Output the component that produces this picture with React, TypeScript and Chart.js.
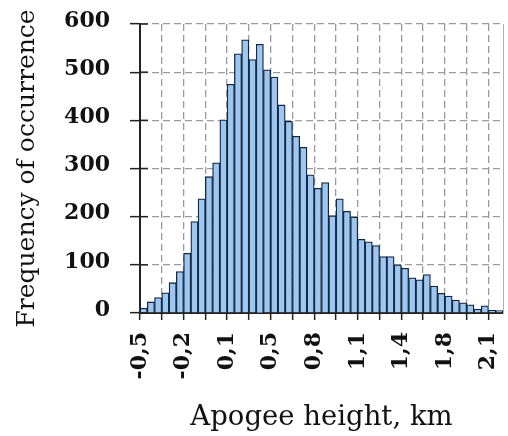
import { useEffect, useRef } from 'react';
import { Chart, registerables } from 'chart.js';

Chart.register(...registerables);

// Histogram bin counts (50 bins, left to right)
const BIN_COUNTS = [
  10, 23, 32, 42, 63, 86, 124, 190, 237, 283,
  312, 401, 475, 538, 567, 526, 558, 505, 490, 432,
  398, 367, 344, 287, 259, 271, 202, 237, 211, 199,
  153, 148, 140, 117, 117, 100, 93, 73, 69, 80,
  56, 41, 35, 27, 21, 17, 8, 15, 6, 5,
];

// Tick labels shown on every second grid line (grid line every 3 bins)
const X_TICK_LABELS = ['-0,5', '-0,2', '0,1', '0,5', '0,8', '1,1', '1,4', '1,8', '2,1'];
const BINS_PER_GRID = 3;
const GRIDS_PER_LABEL = 2;

const Y_MIN = 0;
const Y_MAX = 600;
const Y_STEP = 100;

const X_TITLE = 'Apogee height, km';
const Y_TITLE = 'Frequency of occurrence';

const frameExtras = {
  id: 'frameExtras',
  afterDatasetsDraw(chart: any) {
    const { ctx, chartArea, scales } = chart;
    ctx.save();
    // right frame line
    ctx.strokeStyle = '#b0b0b0';
    ctx.lineWidth = 1;
    ctx.beginPath();
    ctx.moveTo(chartArea.right + 0.5, chartArea.top);
    ctx.lineTo(chartArea.right + 0.5, chartArea.bottom);
    ctx.stroke();
    // inner tick marks on the y axis
    ctx.strokeStyle = '#222';
    ctx.lineWidth = 1.5;
    const y = scales.y;
    y.ticks.forEach((t: any) => {
      const py = y.getPixelForValue(t.value);
      ctx.beginPath();
      ctx.moveTo(chartArea.left, py);
      ctx.lineTo(chartArea.left + 8, py);
      ctx.stroke();
    });
    ctx.restore();
  },
};

export default function App() {
  const ref = useRef<HTMLCanvasElement>(null);

  useEffect(() => {
    document.body.style.margin = '0';
    const canvas = ref.current;
    if (!canvas) return;
    const chart = new Chart(canvas, {
      type: 'bar',
      data: {
        datasets: [
          {
            data: BIN_COUNTS.map((v, i) => ({ x: i + 0.5, y: v })),
            backgroundColor: '#9dc7f0',
            borderColor: '#15263f',
            borderWidth: 1.3,
            borderSkipped: 'bottom',
            barPercentage: 1,
            categoryPercentage: 1,
          } as any,
        ],
      },
      options: {
        responsive: false,
        animation: false,
        layout: { padding: { top: 24, right: 5, left: 0, bottom: 0 } },
        plugins: { legend: { display: false }, tooltip: { enabled: false } },
        scales: {
          x: {
            type: 'linear',
            min: 0,
            max: BIN_COUNTS.length,
            offset: false,
            afterFit: (s: any) => {
              s.height = 123;
              s.paddingLeft = 0;
              s.paddingRight = 0;
            },
            grid: {
              color: '#9a9a9a',
              lineWidth: 1.3,
              tickColor: '#222',
              tickWidth: 1.5,
              tickLength: 7,
              tickBorderDash: [],
              offset: false,
            },
            border: { color: '#222', width: 2, dash: [7, 4] },
            ticks: {
              stepSize: BINS_PER_GRID,
              includeBounds: false,
              autoSkip: false,
              maxRotation: 90,
              minRotation: 90,
              padding: 12,
              color: '#111',
              font: { family: 'DejaVu Serif', size: 22, weight: 'bold' },
              callback: (v: any) => {
                const step = BINS_PER_GRID * GRIDS_PER_LABEL;
                if (v % step !== 0) return '';
                return X_TICK_LABELS[v / step] ?? '';
              },
            },
            title: {
              display: true,
              text: X_TITLE,
              color: '#111',
              font: { family: 'DejaVu Serif', size: 27.5 },
              padding: { top: 0, bottom: 2 },
            },
          },
          y: {
            min: Y_MIN,
            max: Y_MAX,
            afterFit: (s: any) => {
              s.width = 140;
              s.paddingTop = 10;
              s.paddingBottom = 10;
            },
            grid: {
              color: '#9a9a9a',
              lineWidth: 1.3,
              tickColor: '#222',
              tickWidth: 1.5,
              tickLength: 10,
              tickBorderDash: [],
            },
            border: { color: '#222', width: 2, dash: [7, 4] },
            ticks: {
              stepSize: Y_STEP,
              padding: 20,
              labelOffset: -3,
              color: '#111',
              font: { family: 'DejaVu Serif', size: 22, weight: 'bold' },
            },
            title: {
              display: true,
              text: Y_TITLE,
              color: '#111',
              font: { family: 'DejaVu Serif', size: 25 },
              padding: { top: 12, bottom: 0 },
            },
          },
        },
      } as any,
      plugins: [frameExtras],
    });
    return () => chart.destroy();
  }, []);

  return (
    <div style={{ width: 508, height: 436 }}>
      <canvas ref={ref} width={508} height={436} />
    </div>
  );
}
